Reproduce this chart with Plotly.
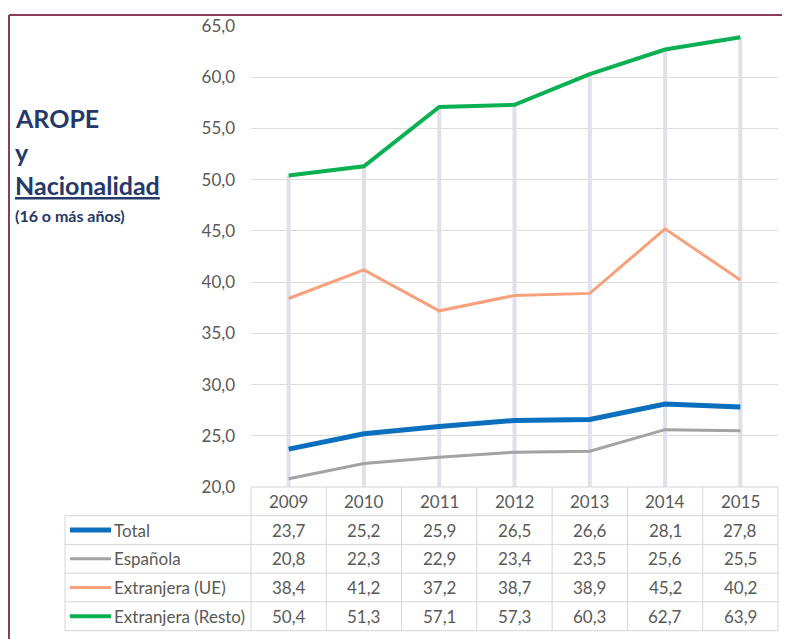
import plotly.graph_objects as go

years = ["2009", "2010", "2011", "2012", "2013", "2014", "2015"]
series_names = ["Total", "Española", "Extranjera (UE)", "Extranjera (Resto)"]
total = [23.7, 25.2, 25.9, 26.5, 26.6, 28.1, 27.8]
espanola = [20.8, 22.3, 22.9, 23.4, 23.5, 25.6, 25.5]
ext_ue = [38.4, 41.2, 37.2, 38.7, 38.9, 45.2, 40.2]
ext_resto = [50.4, 51.3, 57.1, 57.3, 60.3, 62.7, 63.9]
y_ticks = [20, 25, 30, 35, 40, 45, 50, 55, 60, 65]

series_values = [total, espanola, ext_ue, ext_resto]
colors = ["#0a6fbd", "#a3a3a3", "#f7a17c", "#0bb053"]
widths = [5, 3, 3, 4]

# page body has an 8px margin; the figure is sized so it ends at the window edge
OFF = 8
W, H = 790 - OFF, 639 - OFF


def px(x):
    return (x - OFF) / W


def py(y):
    return 1 - (y - OFF) / H


GRAY_TXT = "#595959"
GRID = "#dcdcdc"
FONT = "Lato"
FS = 17

fig = go.Figure()

# high-low (drop) lines from axis to max value
xs, ys = [], []
for i in range(len(years)):
    m = max(s[i] for s in series_values)
    xs += [i, i, None]
    ys += [20, m, None]
fig.add_trace(go.Scatter(x=xs, y=ys, mode="lines",
                         line=dict(color="#e0dfec", width=4),
                         hoverinfo="skip", showlegend=False))

xi = list(range(len(years)))
for name, vals, c, w in zip(series_names, series_values, colors, widths):
    fig.add_trace(go.Scatter(x=xi, y=vals, mode="lines", name=name,
                             line=dict(color=c, width=w), showlegend=False))

left, right = 251, 778
top_plot, bottom_plot = 26, 487

fig.update_layout(
    width=W, height=H,
    margin=dict(l=0, r=0, t=0, b=0, pad=0, autoexpand=False),
    paper_bgcolor="white", plot_bgcolor="white",
    separators=",.",
    font=dict(family=FONT, color=GRAY_TXT, size=FS),
    xaxis=dict(domain=[px(left), px(right)], range=[-0.5, len(years) - 0.5],
               showticklabels=False, showgrid=False, zeroline=False,
               showline=False, ticks="", automargin=False),
    yaxis=dict(domain=[py(bottom_plot), py(top_plot)], range=[20, 65],
               tickvals=y_ticks, tickformat=".1f", showgrid=True,
               gridcolor=GRID, gridwidth=1, zeroline=False, showline=False,
               ticks="", ticklabelstandoff=15, automargin=False,
               tickfont=dict(family=FONT, size=FS, color=GRAY_TXT)),
)

shapes = []
# outer border (maroon)
shapes.append(dict(type="line", xref="paper", yref="paper",
                   x0=px(9), x1=1.0, y0=py(15), y1=py(15),
                   line=dict(color="#8c3b5c", width=2)))
shapes.append(dict(type="line", xref="paper", yref="paper",
                   x0=px(9), x1=px(9), y0=py(15), y1=0,
                   line=dict(color="#8c3b5c", width=2)))

# table
tbl_left = 65
header_top = 487
row_edges = [515.7, 544.4, 573.1, 601.8, 630.7]
col_w = (right - left) / len(years)
col_edges = [left + k * col_w for k in range(len(years) + 1)]
lc = dict(color="#d6d6d6", width=1)
shapes.append(dict(type="line", xref="paper", yref="paper",
                   x0=px(left), x1=px(right), y0=py(header_top), y1=py(header_top), line=lc))
for ry in row_edges:
    shapes.append(dict(type="line", xref="paper", yref="paper",
                       x0=px(tbl_left), x1=px(right), y0=py(ry), y1=py(ry), line=lc))
shapes.append(dict(type="line", xref="paper", yref="paper",
                   x0=px(tbl_left), x1=px(tbl_left), y0=py(row_edges[0]), y1=py(row_edges[-1]), line=lc))
for cx in col_edges:
    shapes.append(dict(type="line", xref="paper", yref="paper",
                       x0=px(cx), x1=px(cx), y0=py(header_top), y1=py(row_edges[-1]), line=lc))

annotations = []
header_mid = (header_top + row_edges[0]) / 2
for i, yr in enumerate(years):
    annotations.append(dict(x=i, xref="x", y=py(header_mid), yref="paper",
                            text=yr, showarrow=False, xanchor="center", yanchor="middle",
                            font=dict(family=FONT, size=FS, color=GRAY_TXT)))
for r, (name, vals, c, w) in enumerate(zip(series_names, series_values, colors, widths)):
    mid = (row_edges[r] + row_edges[r + 1]) / 2
    shapes.append(dict(type="line", xref="paper", yref="paper",
                       x0=px(70), x1=px(111), y0=py(mid), y1=py(mid),
                       line=dict(color=c, width=w)))
    annotations.append(dict(x=px(112), xref="paper", y=py(mid), yref="paper",
                            text=name, showarrow=False, xanchor="left", yanchor="middle",
                            font=dict(family=FONT, size=FS, color=GRAY_TXT)))
    for i, v in enumerate(vals):
        annotations.append(dict(x=i, xref="x", y=py(mid), yref="paper",
                                text=f"{v:.1f}".replace(".", ","), showarrow=False,
                                xanchor="center", yanchor="middle",
                                font=dict(family=FONT, size=FS, color=GRAY_TXT)))

# title block
NAVY = "#24386a"
annotations.append(dict(x=px(13), xref="paper", y=py(118), yref="paper",
                        text="<b>AROPE</b>", showarrow=False, xanchor="left", yanchor="middle",
                        font=dict(family=FONT, size=25, color=NAVY)))
annotations.append(dict(x=px(13), xref="paper", y=py(152), yref="paper",
                        text="<b>y</b>", showarrow=False, xanchor="left", yanchor="middle",
                        font=dict(family=FONT, size=25, color=NAVY)))
annotations.append(dict(x=px(13), xref="paper", y=py(185), yref="paper",
                        text="<b><u>Nacionalidad</u></b>", showarrow=False, xanchor="left", yanchor="middle",
                        font=dict(family=FONT, size=25, color=NAVY)))
annotations.append(dict(x=px(13), xref="paper", y=py(215), yref="paper",
                        text="<b>(16 o más años)</b>", showarrow=False, xanchor="left", yanchor="middle",
                        font=dict(family=FONT, size=16, color=NAVY)))

fig.update_layout(shapes=shapes, annotations=annotations)
fig.write_html("out.html")
